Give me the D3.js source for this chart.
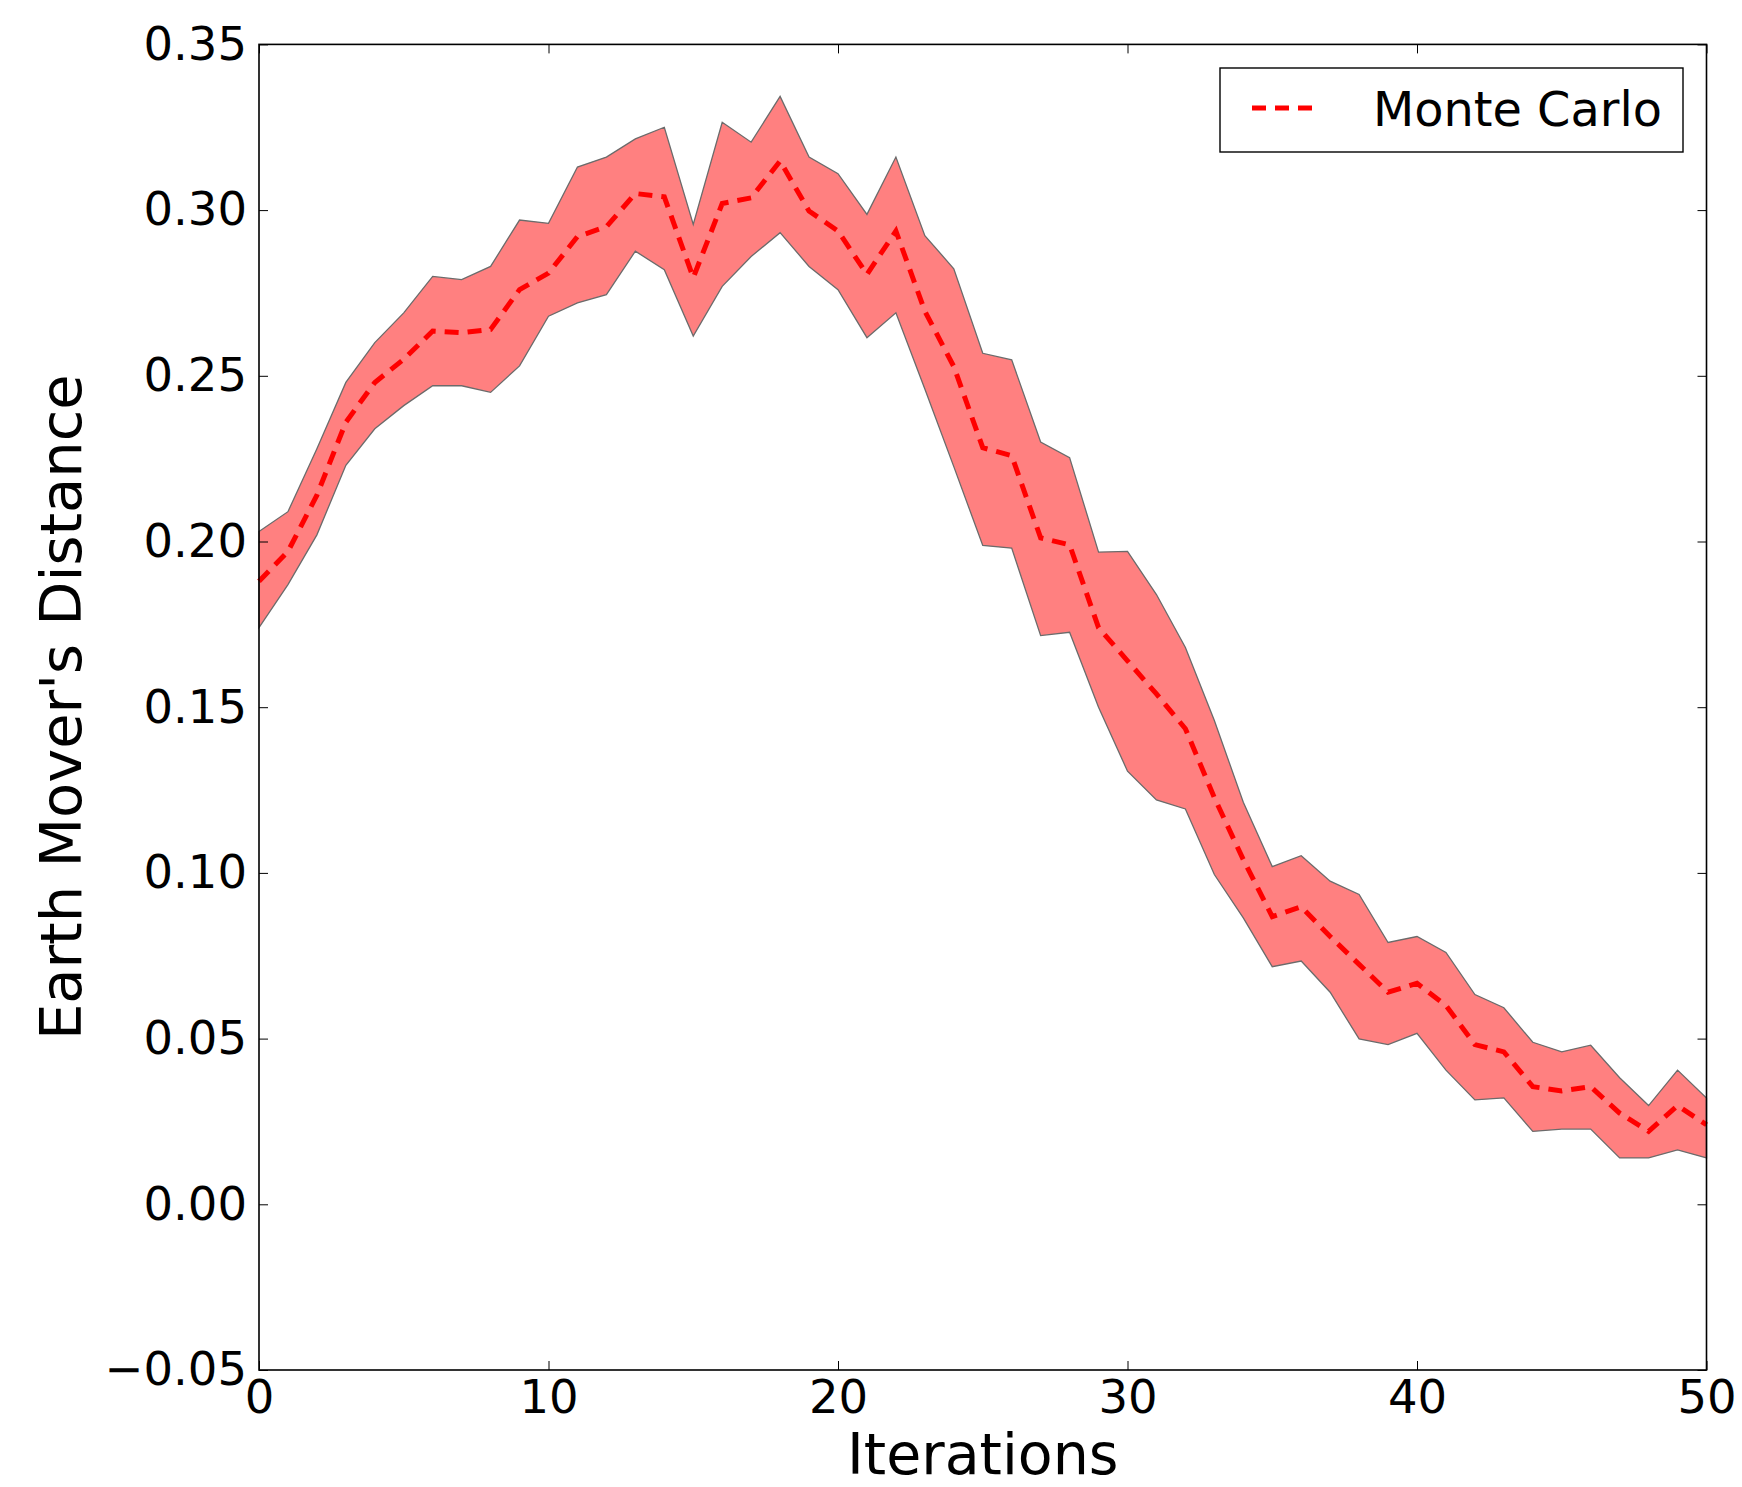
<!DOCTYPE html>
<head>
<meta charset="utf-8">
<style>
    body { margin: 0; background: #fff; }
    text { font-family: "DejaVu Sans", sans-serif; fill: #000; }
    .tick line { stroke: #000; stroke-width: 1; }
</style>
</head>
<body>
    <script src="https://d3js.org/d3.v7.min.js"></script>
    <script>

    ////////// DATA //////////

    const iterations = d3.range(0, 51);
    const meanEmd = [0.188, 0.197, 0.214, 0.236, 0.248, 0.255, 0.2635, 0.263, 0.264, 0.276,
                     0.281, 0.292, 0.295, 0.305, 0.304, 0.2796, 0.302, 0.3037, 0.3148, 0.2997,
                     0.2937, 0.2806, 0.2937, 0.2695, 0.2528, 0.2283, 0.2259, 0.2011, 0.199, 0.174,
                     0.164, 0.154, 0.1435, 0.1227, 0.104, 0.0868, 0.0898, 0.0808, 0.0724, 0.064,
                     0.0667, 0.060, 0.0482, 0.046, 0.0355, 0.0342, 0.0355, 0.0275, 0.022, 0.0298,
                     0.024];
    const upperEmd = [0.203, 0.209, 0.228, 0.248, 0.260, 0.269, 0.280, 0.279, 0.283, 0.297,
                      0.296, 0.313, 0.316, 0.3215, 0.325, 0.2957, 0.3265, 0.3205, 0.3343, 0.316,
                      0.311, 0.2987, 0.316, 0.2923, 0.2823, 0.2568, 0.2548, 0.230, 0.2253, 0.1968,
                      0.197, 0.184, 0.168, 0.146, 0.1213, 0.1019, 0.1052, 0.0975, 0.0935, 0.079,
                      0.0808, 0.076, 0.0633, 0.0593, 0.0489, 0.046, 0.048, 0.0382, 0.0298, 0.0405,
                      0.0321];
    const lowerEmd = [0.174, 0.187, 0.202, 0.223, 0.234, 0.241, 0.247, 0.247, 0.245, 0.253,
                      0.268, 0.272, 0.2745, 0.2876, 0.282, 0.262, 0.277, 0.286, 0.2932, 0.283,
                      0.276, 0.2615, 0.269, 0.246, 0.2226, 0.1988, 0.198, 0.1716, 0.1726, 0.150,
                      0.1307, 0.122, 0.1193, 0.0995, 0.0864, 0.0717, 0.0734, 0.064, 0.0499, 0.0482,
                      0.0516, 0.0405, 0.0315, 0.0321, 0.022, 0.0227, 0.0227, 0.014, 0.014, 0.0164,
                      0.014];
    const xTicks = [0, 10, 20, 30, 40, 50];
    const yTicks = [-0.05, 0, 0.05, 0.10, 0.15, 0.20, 0.25, 0.30, 0.35];
    const seriesName = 'Monte Carlo';

    ////////// SETUP //////////

    const W = 1742, H = 1487;
    const plotL = 259, plotR = 1706.5, plotT = 44.4, plotB = 1370;

    let svg = d3.select('body').append('svg')
        .attr('width', W)
        .attr('height', H);

    let x = d3.scaleLinear().domain([0, 50]).range([plotL, plotR]);
    let y = d3.scaleLinear().domain([-0.05, 0.35]).range([plotB, plotT]);

    const fmtY = v => d3.format('.2f')(v).replace('-', '\u2212');

    ////////// BAND + LINE //////////

    let rows = iterations.map((it, i) => ({ it, m: meanEmd[i], hi: upperEmd[i], lo: lowerEmd[i] }));

    svg.append('path')
        .datum(rows)
        .attr('d', d3.area().x(d => x(d.it)).y0(d => y(d.lo)).y1(d => y(d.hi)))
        .attr('fill', '#ff8080')
        .attr('stroke', '#6b6b6b')
        .attr('stroke-width', 1.3);

    svg.append('path')
        .datum(rows)
        .attr('d', d3.line().x(d => x(d.it)).y(d => y(d.m)))
        .attr('fill', 'none')
        .attr('stroke', '#ff0000')
        .attr('stroke-width', 5)
        .attr('stroke-dasharray', '14,9');

    ////////// AXES //////////

    const fs = 46.5;

    let gx = svg.append('g').attr('transform', `translate(0,${plotB})`)
        .call(d3.axisBottom(x).tickValues(xTicks).tickSize(-9).tickPadding(10));
    let gxTop = svg.append('g').attr('transform', `translate(0,${plotT})`)
        .call(d3.axisTop(x).tickValues(xTicks).tickSize(-9).tickFormat(''));
    let gy = svg.append('g').attr('transform', `translate(${plotL},0)`)
        .call(d3.axisLeft(y).tickValues(yTicks).tickSize(-9).tickPadding(12).tickFormat(fmtY));
    let gyRight = svg.append('g').attr('transform', `translate(${plotR},0)`)
        .call(d3.axisRight(y).tickValues(yTicks).tickSize(-9).tickFormat(''));

    [gx, gxTop, gy, gyRight].forEach(g => {
        g.select('.domain').remove();
        g.selectAll('text').style('font-size', fs + 'px').attr('font-family', null);
    });

    svg.append('rect')
        .attr('x', plotL).attr('y', plotT)
        .attr('width', plotR - plotL).attr('height', plotB - plotT)
        .attr('fill', 'none')
        .attr('stroke', '#000')
        .attr('stroke-width', 1.6);

    // axis titles
    svg.append('text')
        .attr('x', (plotL + plotR) / 2)
        .attr('y', 1474)
        .attr('text-anchor', 'middle')
        .style('font-size', '57px')
        .text('Iterations');

    svg.append('text')
        .attr('transform', `translate(81,${(plotT + plotB) / 2}) rotate(-90)`)
        .attr('text-anchor', 'middle')
        .style('font-size', '57.5px')
        .text("Earth Mover's Distance");

    ////////// LEGEND //////////

    let lg = svg.append('g');
    lg.append('rect')
        .attr('x', 1220).attr('y', 68)
        .attr('width', 463).attr('height', 84)
        .attr('fill', '#fff')
        .attr('stroke', '#000')
        .attr('stroke-width', 1.4);
    lg.append('line')
        .attr('x1', 1252).attr('x2', 1312)
        .attr('y1', 108).attr('y2', 108)
        .attr('stroke', '#ff0000')
        .attr('stroke-width', 5)
        .attr('stroke-dasharray', '14,9');
    lg.append('text')
        .attr('x', 1373).attr('y', 126)
        .style('font-size', '47.8px')
        .text(seriesName);

    </script>
</body>
